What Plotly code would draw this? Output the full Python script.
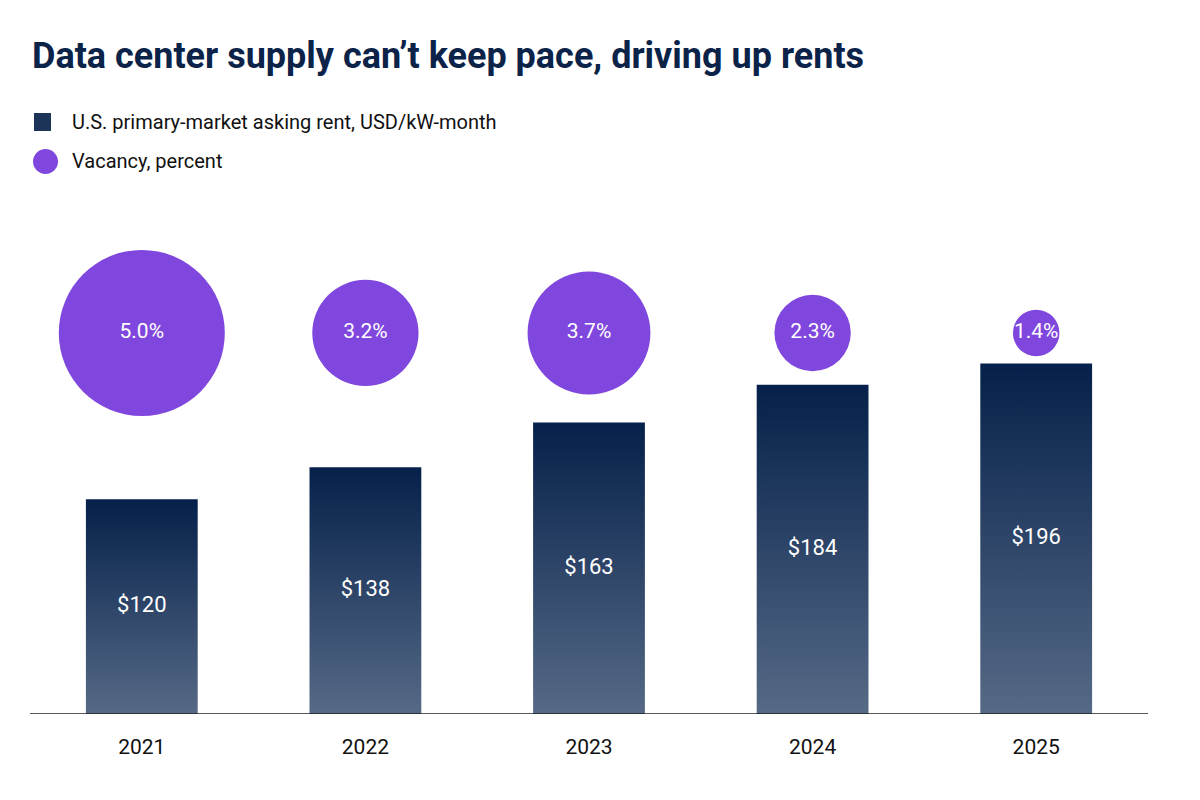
import plotly.graph_objects as go

years = ["2021", "2022", "2023", "2024", "2025"]
rent = [120, 138, 163, 184, 196]
vacancy = [5.0, 3.2, 3.7, 2.3, 1.4]
rent_labels = ["$120", "$138", "$163", "$184", "$196"]
vac_labels = ["5.0%", "3.2%", "3.7%", "2.3%", "1.4%"]

FONT = "Liberation Sans Narrow, Roboto, sans-serif"
NAVY = "#0b2348"
PURPLE = "#7f47dd"
grad = dict(type="vertical", colorscale=[[0, "#566a86"], [1, "#05204a"]])

fig = go.Figure()
hw = 0.25
for i, v in enumerate(rent):
    fig.add_trace(go.Scatter(
        x=[i - hw, i + hw, i + hw, i - hw, i - hw], y=[0, 0, v, v, 0],
        fill="toself", fillgradient=grad, mode="lines", line=dict(width=0),
        showlegend=False, hoverinfo="skip"))
fig.add_trace(go.Scatter(
    x=list(range(len(years))), y=[v / 2 for v in rent], mode="text",
    text=rent_labels, textfont=dict(family=FONT, size=22, color="white"),
    showlegend=False, hoverinfo="skip"))
fig.add_trace(go.Scatter(
    x=list(range(len(years))), y=[213] * len(years), mode="markers+text",
    marker=dict(size=[v * 33.2 for v in vacancy], color=PURPLE, sizemode="diameter",
                opacity=1, line=dict(width=0)),
    text=vac_labels, textposition="middle center",
    textfont=dict(family=FONT, size=21, color="white"),
    showlegend=False, hoverinfo="skip"))

fig.update_layout(
    width=1200, height=800, plot_bgcolor="white", paper_bgcolor="white",
    margin=dict(l=22, r=60, t=223, b=94),
    xaxis=dict(range=[-0.5, 4.5], tickvals=list(range(len(years))), ticktext=years,
               showgrid=False, zeroline=False, showline=False, ticks="",
               tickfont=dict(family=FONT, size=21, color="#111"), ticklabelstandoff=18),
    yaxis=dict(range=[0, 270], visible=False),
    shapes=[
        dict(type="line", xref="paper", yref="y", x0=0, x1=1, y0=0, y1=0, line=dict(color="#222", width=1.5)),
        dict(type="rect", xref="paper", yref="paper", x0=(34-30)/1118, x1=(51-30)/1118,
             y0=(713-130)/483, y1=(713-112)/483, fillcolor="#1c3458", line=dict(width=0)),
        dict(type="circle", xref="paper", yref="paper", x0=(33-30)/1118, x1=(58-30)/1118,
             y0=(713-173)/483, y1=(713-148)/483, fillcolor=PURPLE, line=dict(width=0)),
    ],
    annotations=[
        dict(text="<b>Data center supply can’t keep pace, driving up rents</b>", xref="paper", yref="paper",
             x=(30-30)/1118, y=(713-55)/483, xanchor="left", yanchor="middle", showarrow=False,
             font=dict(family=FONT, size=36, color=NAVY)),
        dict(text="U.S. primary-market asking rent, USD/kW-month", xref="paper", yref="paper",
             x=(70-30)/1118, y=(713-121)/483, xanchor="left", yanchor="middle", showarrow=False,
             font=dict(family=FONT, size=20, color="#111")),
        dict(text="Vacancy, percent", xref="paper", yref="paper",
             x=(70-30)/1118, y=(713-160)/483, xanchor="left", yanchor="middle", showarrow=False,
             font=dict(family=FONT, size=20, color="#111")),
    ],
)
fig.write_html("out.html")
